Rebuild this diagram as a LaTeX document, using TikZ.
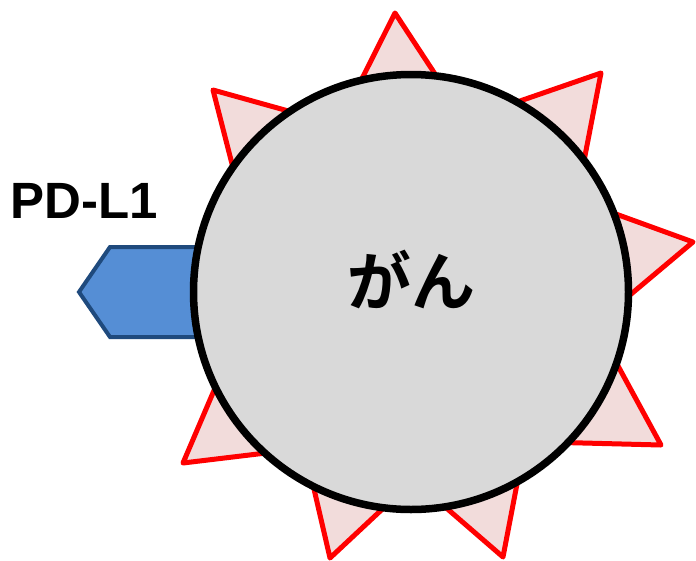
\documentclass[tikz,border=0pt]{standalone}
\usepackage{fontspec}
\setmainfont{Liberation Sans}
\newfontfamily\jpfont{Noto Sans CJK JP}[BoldFont={Noto Sans CJK JP Bold}]
\usetikzlibrary{calc}
\definecolor{spikeedge}{HTML}{FF0000}
\definecolor{spikefill}{HTML}{F2DCDB}
\definecolor{cellfill}{HTML}{D9D9D9}
\definecolor{ligandfill}{HTML}{558ED5}
\definecolor{ligandedge}{HTML}{1F4A7D}

% one triangular spike: tip given, base hidden under the cell
\newcommand{\spike}[1]{%
    \draw[spike] (#1) -- ($(#1)!130pt!30:(core)$) -- ($(#1)!130pt!-30:(core)$) -- cycle;}

\begin{document}
\begin{tikzpicture}[
    x=1pt, y=-1pt,
    % Red spikes around the tumour cell
    spike/.style={
        draw=spikeedge,
        fill=spikefill,
        line width=5pt,
        line join=round
    },
    % The cell itself
    cell/.style={
        circle,
        draw=black,
        fill=cellfill,
        line width=7.5pt,
        minimum size=435pt,
        inner sep=0pt,
        font=\jpfont\bfseries\fontsize{64}{64}\selectfont
    },
    % PD-L1 receptor on the surface
    ligand/.style={
        draw=ligandedge,
        fill=ligandfill,
        line width=4pt
    },
    label/.style={
        inner sep=0pt,
        font=\bfseries\fontsize{51}{51}\selectfont
    }
]
\useasboundingbox (0,0) rectangle (696,560);

\coordinate (core) at (411,292);

% ==============================
% Spikes
% ==============================
\spike{395,13}
\spike{601,73}
\spike{693,242}
\spike{661,445}
\spike{503,557}
\spike{330,558}
\spike{183,463}
\spike{213,90}

% ==============================
% PD-L1
% ==============================
\draw[ligand] (230,247) -- (110,247) -- (79,292) -- (110,337) -- (230,337) -- cycle;
\node[label] (pdl1) at (84,201) {PD-L1};

% ==============================
% Cell
% ==============================
\node[cell] (cancer) at (core) {\raisebox{13pt}[\height][\depth]{がん}};

\end{tikzpicture}
\end{document}
